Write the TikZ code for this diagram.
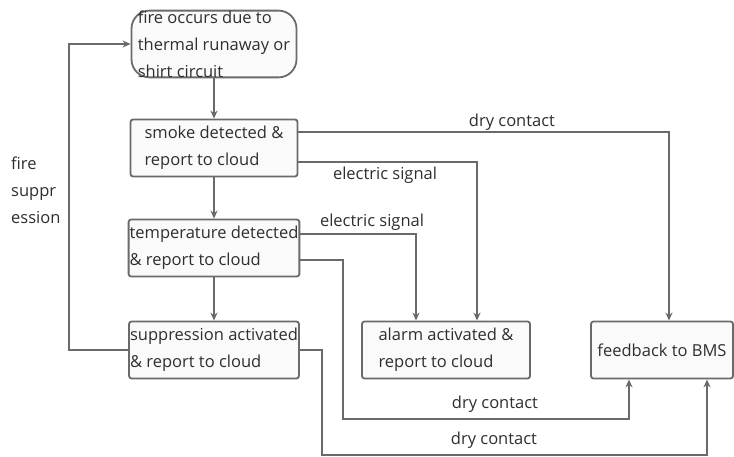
\documentclass[tikz,border=0pt]{standalone}
\usepackage{fontspec}
\setmainfont{Open Sans}
\usetikzlibrary{calc,arrows.meta}

\definecolor{linegray}{HTML}{6A6A6A}
\definecolor{textgray}{HTML}{2E2E2E}

\tikzset{
    stepbox/.style={draw=linegray, line width=1.8pt, fill=gray!4, rounded corners=2.5pt,
        minimum width=167pt, minimum height=57pt, inner xsep=1pt,
        align=left, text=textgray},
    startbox/.style={stepbox, rounded corners=18pt, minimum width=165pt,
        minimum height=63pt, inner ysep=0pt},
    link/.style={draw=linegray, line width=1.8pt, -{Stealth[length=8pt,width=7pt]}},
    tag/.style={text=textgray, inner sep=1pt}
}

\begin{document}
\begin{tikzpicture}[x=1pt, y=-1pt, font=\fontsize{16.5}{27}\selectfont]
        \useasboundingbox (0,0) rectangle (734,457);

        % --- 1. Flow boxes ---
        \node[startbox] (fire) at (214,44) {fire occurs due to\\thermal runaway or\\shirt circuit};
        \node[stepbox] (smoke) at (214,148) {smoke detected \&\\report to cloud};
        \node[stepbox] (temp) at (214,248) {temperature detected\\\& report to cloud};
        \node[stepbox] (supp) at (214,350) {suppression activated\\\& report to cloud};
        \node[stepbox, minimum width=168pt] (alarm) at (446,350) {alarm activated \&\\report to cloud};
        \node[stepbox, minimum width=142pt] (bms) at (662,350) {feedback to BMS};

        % --- 2. Main chain ---
        \draw[link] (fire) -- (smoke);
        \draw[link] (smoke) -- (temp);
        \draw[link] (temp) -- (supp);

        % fire suppression loop
        \coordinate (loop) at (69,0);
        \draw[link] (supp.west) -- (loop |- supp.west) -- (loop |- fire.west) -- (fire.west);
        \node[tag, anchor=west, align=left] (supptag) at (10,190) {fire\\suppr\\ession};

        % --- 3. Signals to alarm and BMS ---
        \draw[link] ([yshift=16pt]smoke.east) -| ([xshift=7pt]bms.north);
        \node[tag] (dry1) at (512,122) {dry contact};

        \draw[link] ([yshift=-14pt]smoke.east) -| ([xshift=31pt]alarm.north);
        \node[tag] (elec1) at (385,175) {electric signal};

        \draw[link] ([yshift=14pt]temp.east) -| ([xshift=-30pt]alarm.north);
        \node[tag] (elec2) at (372,222) {electric signal};

        \coordinate (tempdrop) at (343,419);
        \draw[link] ([yshift=-12pt]temp.east) -| (tempdrop) -| ([xshift=-33pt]bms.south);
        \node[tag] (dry2) at (495,404) {dry contact};

        \coordinate (suppdrop) at (322,455);
        \draw[link] (supp.east) -| (suppdrop) -| ([xshift=45pt]bms.south);
        \node[tag] (dry3) at (494,440) {dry contact};
    \end{tikzpicture}
\end{document}
